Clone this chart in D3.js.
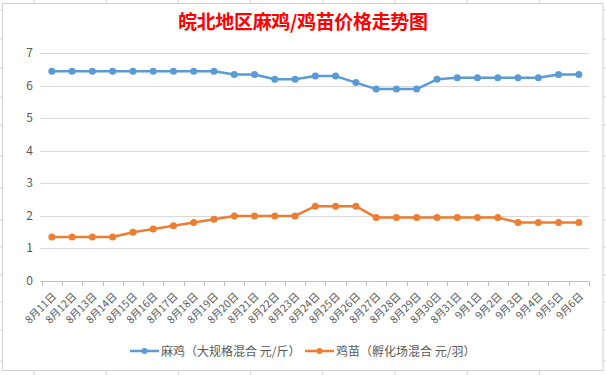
<!DOCTYPE html>
<html>
<head>
<meta charset="utf-8">
<script src="https://cdn.jsdelivr.net/npm/d3@7"></script>
<style>
  body { margin: 0; background: #fff; }
  svg { display: block; font-family: "Noto Sans CJK SC", sans-serif; }
</style>
</head>
<body>
<svg width="606" height="375"></svg>
<script>
        // dates on the x axis
        const dates = ['8月11日','8月12日','8月13日','8月14日','8月15日','8月16日','8月17日','8月18日','8月19日',
            '8月20日','8月21日','8月22日','8月23日','8月24日','8月25日','8月26日','8月27日','8月28日','8月29日',
            '8月30日','8月31日','9月1日','9月2日','9月3日','9月4日','9月5日','9月6日']

        // 麻鸡 price (元/斤)
        const majiPrice = [6.45,6.45,6.45,6.45,6.45,6.45,6.45,6.45,6.45,
            6.35,6.35,6.2,6.2,6.3,6.3,6.1,5.9,5.9,5.9,
            6.2,6.25,6.25,6.25,6.25,6.25,6.35,6.35]

        // 鸡苗 price (元/羽)
        const jimiaoPrice = [1.35,1.35,1.35,1.35,1.5,1.6,1.7,1.8,1.9,
            2.0,2.0,2.0,2.0,2.3,2.3,2.3,1.95,1.95,1.95,
            1.95,1.95,1.95,1.95,1.8,1.8,1.8,1.8]

        const yTicks = [0,1,2,3,4,5,6,7]
        const seriesNames = ['麻鸡（大规格混合 元/斤）', '鸡苗（孵化场混合 元/羽）']
        const seriesColors = ['#5b9bd5', '#ed7d31']
        const title = '皖北地区麻鸡/鸡苗价格走势图'

        const svg = d3.select('svg')

        // spreadsheet grid behind the chart object
        const sheetCols = d3.range(34, 606, 72.2)
        const sheetRows = [10, 39, 68, 97, 125, 156, 188, 220, 247, 275, 302, 330, 361]
        svg.append('g').selectAll('line').data(sheetCols).enter().append('line')
            .attr('x1', d => d).attr('x2', d => d).attr('y1', 0).attr('y2', 375)
            .attr('stroke', '#d4d4d4')
        svg.append('g').selectAll('line').data(sheetRows).enter().append('line')
            .attr('x1', 0).attr('x2', 606).attr('y1', d => d).attr('y2', d => d)
            .attr('stroke', '#d4d4d4')

        // chart box
        svg.append('rect')
            .attr('x', 2.5).attr('y', 3.5).attr('width', 600.5).attr('height', 367)
            .attr('fill', '#fff').attr('stroke', '#d0d0d0')

        svg.append('text')
            .attr('x', 303).attr('y', 29)
            .attr('text-anchor', 'middle')
            .attr('font-size', '19px').attr('font-weight', 'bold')
            .attr('fill', '#ff0000')
            .attr('textLength', 250).attr('lengthAdjust', 'spacing')
            .text(title)

        const x = d3.scaleBand().domain(dates).range([41.7, 589])
        const y = d3.scaleLinear().domain([0, 7]).range([281, 53.3])

        // horizontal gridlines + y labels
        svg.append('g').selectAll('line').data(yTicks.filter(d => d > 0)).enter().append('line')
            .attr('x1', 40).attr('x2', 589)
            .attr('y1', d => Math.round(y(d)) + 0.5).attr('y2', d => Math.round(y(d)) + 0.5)
            .attr('stroke', '#d9d9d9')

        svg.append('g').selectAll('text').data(yTicks).enter().append('text')
            .attr('x', 33).attr('y', d => y(d) + 4)
            .attr('text-anchor', 'end')
            .attr('font-size', '12px').attr('fill', '#595959')
            .text(d => d)

        // x axis line and ticks
        const xAxis = svg.append('g')
        xAxis.append('line')
            .attr('x1', 40).attr('x2', 589)
            .attr('y1', Math.round(y(0)) + 0.5).attr('y2', Math.round(y(0)) + 0.5)
            .attr('stroke', '#bfbfbf')
        const bounds = dates.map(d => x(d)).concat([x.range()[1]])
        xAxis.selectAll('.tk').data(bounds).enter().append('line')
            .attr('class', 'tk')
            .attr('x1', d => Math.round(d) + 0.5).attr('x2', d => Math.round(d) + 0.5)
            .attr('y1', y(0)).attr('y2', y(0) + 5)
            .attr('stroke', '#bfbfbf')

        xAxis.selectAll('text').data(dates).enter().append('text')
            .attr('transform', d => `translate(${x(d) + x.bandwidth() / 2 + 5},${y(0) + 16}) rotate(-45)`)
            .attr('text-anchor', 'end')
            .attr('font-size', '10.5px').attr('fill', '#595959')
            .text(d => d)

        // series
        const line = d3.line()
            .x((d, i) => x(dates[i]) + x.bandwidth() / 2)
            .y(d => y(d))

        ;[majiPrice, jimiaoPrice].forEach((vals, k) => {
            svg.append('path')
                .datum(vals)
                .attr('d', line)
                .attr('fill', 'none')
                .attr('stroke', seriesColors[k])
                .attr('stroke-width', 2.5)
                .attr('stroke-linejoin', 'round')
            svg.append('g').selectAll('circle').data(vals).enter().append('circle')
                .attr('cx', (d, i) => x(dates[i]) + x.bandwidth() / 2)
                .attr('cy', d => y(d))
                .attr('r', 3.5)
                .attr('fill', seriesColors[k])
        })

        // legend
        const legendX = [130, 305]
        const legend = svg.append('g')
        seriesNames.forEach((name, k) => {
            const lx = legendX[k]
            legend.append('line')
                .attr('x1', lx).attr('x2', lx + 29).attr('y1', 351).attr('y2', 351)
                .attr('stroke', seriesColors[k]).attr('stroke-width', 2.5)
            legend.append('circle')
                .attr('cx', lx + 14.5).attr('cy', 351).attr('r', 3)
                .attr('fill', seriesColors[k])
            legend.append('text')
                .attr('x', lx + 31).attr('y', 355.5)
                .attr('font-size', '12px').attr('fill', '#595959')
                .text(name)
        })
</script>
</body>
</html>
